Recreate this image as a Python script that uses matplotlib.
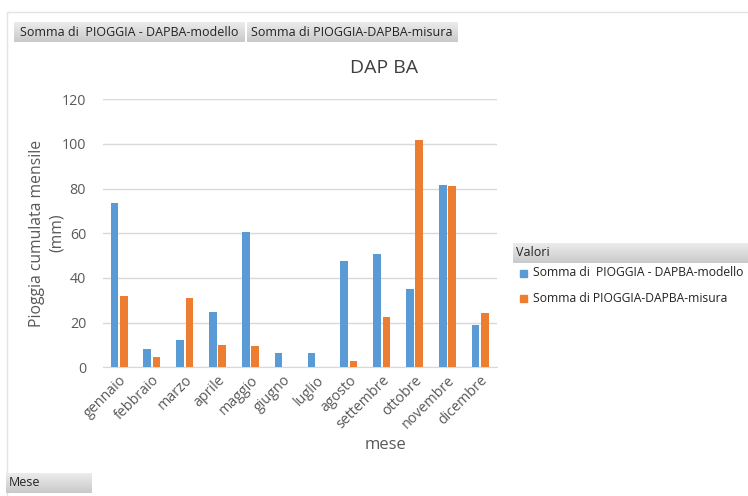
import matplotlib
matplotlib.use("Agg")
import matplotlib.pyplot as plt
import numpy as np

plt.rcParams["font.family"] = ["Open Sans", "DejaVu Sans"]

# Monthly cumulative rainfall (mm)
mesi = ["gennaio", "febbraio", "marzo", "aprile", "maggio", "giugno",
        "luglio", "agosto", "settembre", "ottobre", "novembre", "dicembre"]
modello = [73.4, 8.4, 12.2, 24.8, 60.6, 6.6, 6.4, 47.6, 50.8, 35.2, 81.5, 19.1]
misura = [31.9, 4.6, 30.9, 9.9, 9.4, 0.0, 0.0, 2.8, 22.4, 101.8, 81.1, 24.2]

serie_modello = "Somma di  PIOGGIA - DAPBA-modello"
serie_misura = "Somma di PIOGGIA-DAPBA-misura"

BLUE = "#5B9BD5"
ORANGE = "#ED7D31"
TXT = "#595959"

W, H = 748, 496
fig = plt.figure(figsize=(W / 100, H / 100), dpi=100)

# overlay in pixel coordinates for the pivot-chart field buttons
ov = fig.add_axes([0, 0, 1, 1], zorder=0)
ov.set_xlim(0, W)
ov.set_ylim(H, 0)
ov.axis("off")

grad = np.linspace(0, 1, 64).reshape(-1, 1)
gray_cmap = matplotlib.colors.LinearSegmentedColormap.from_list(
    "btn", ["#ececec", "#c9c9c9"])


def button(x0, y0, x1, y1):
    ov.imshow(grad, cmap=gray_cmap, aspect="auto",
              extent=(x0, x1, y1, y0), zorder=1)


# chart frame
ov.plot([7, 7, W], [H, 12, 12], color="#e3e3e3", lw=1.0, zorder=0)

button(14, 22, 245, 42)
button(247, 22, 458, 42)
ov.text(20, 32.5, serie_modello, fontsize=9, color="#222222", va="center")
ov.text(251, 32.5, serie_misura, fontsize=9, color="#222222", va="center")

button(513, 243, W, 263)
ov.text(516, 253, "Valori", fontsize=9, color="#222222", va="center")

button(6, 473, 92, 493)
ov.text(9, 483, "Mese", fontsize=9, color="#222222", va="center")

# legend entries
for yy, col, lab in [(273, BLUE, serie_modello), (298, ORANGE, serie_misura)]:
    ov.add_patch(plt.Rectangle((520, yy - 3.5), 7, 7, color=col, zorder=2))
    ov.text(533, yy, lab, fontsize=8.7, color="#222222", va="center")

# titles and axis labels
ov.text(384, 68, "DAP BA", fontsize=14, color="#404040",
        ha="center", va="center")
ov.text(37, 233, "Pioggia cumulata mensile", fontsize=11.3, color=TXT,
        ha="center", va="center", rotation=90)
ov.text(57, 233, "(mm)", fontsize=11.3, color=TXT,
        ha="center", va="center", rotation=90)
ov.text(386, 445, "mese", fontsize=12, color=TXT, ha="center", va="center")

# main chart
ax = fig.add_axes([102.7 / W, 1 - 367.3 / H, 394 / W, 268 / H], zorder=2)
ax.patch.set_alpha(0)
x = np.arange(len(mesi))
bw = 0.235
ax.bar(x - bw / 2 - 0.025, modello, width=bw, color=BLUE, zorder=3)
ax.bar(x + bw / 2 + 0.025, misura, width=bw, color=ORANGE, zorder=3)

ax.set_xlim(-0.5, len(mesi) - 0.5)
ax.set_ylim(0, 120)
ax.set_yticks(range(0, 121, 20))
ax.yaxis.grid(True, color="#d9d9d9", lw=1.0, zorder=0)
for s in ["top", "right", "left"]:
    ax.spines[s].set_visible(False)
ax.spines["bottom"].set_color("#d9d9d9")
ax.tick_params(axis="both", length=0, colors=TXT, labelsize=10.3)
ax.tick_params(axis="y", pad=12)
ax.tick_params(axis="x", pad=4)
ax.set_xticks(x)
ax.set_xticklabels(mesi, rotation=45, ha="right", rotation_mode="anchor")

fig.savefig("out.png", dpi=100)
